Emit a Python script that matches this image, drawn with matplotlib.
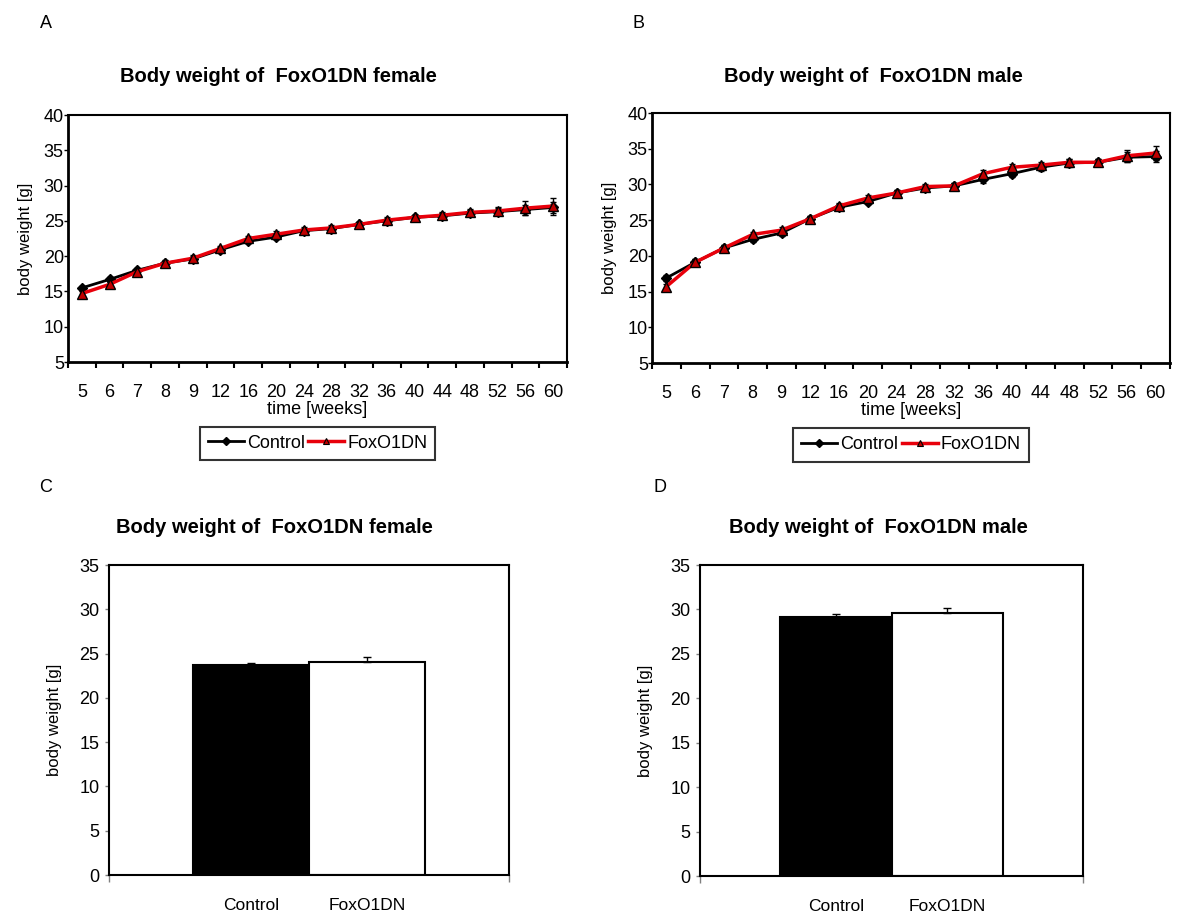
import matplotlib
matplotlib.use("Agg")
import matplotlib.pyplot as plt
from matplotlib.lines import Line2D
import numpy as np

plt.rcParams['font.family'] = ['Liberation Sans', 'DejaVu Sans']

# data
weeks = ['5', '6', '7', '8', '9', '12', '16', '20', '24', '28', '32', '36',
         '40', '44', '48', '52', '56', '60']

female_ctrl = [15.5, 16.7, 18.0, 19.0, 19.6, 20.9, 22.1, 22.7, 23.6, 23.9,
               24.5, 25.0, 25.5, 25.7, 26.1, 26.3, 26.6, 26.9]
female_ctrl_err = [0.3, 0.3, 0.3, 0.3, 0.3, 0.3, 0.3, 0.3, 0.3, 0.3,
                   0.3, 0.3, 0.3, 0.4, 0.4, 0.5, 0.7, 0.8]
female_foxo = [14.7, 16.0, 17.8, 19.0, 19.7, 21.1, 22.5, 23.1, 23.7, 24.0,
               24.5, 25.1, 25.5, 25.8, 26.2, 26.4, 26.8, 27.1]
female_foxo_err = [0.4, 0.4, 0.4, 0.4, 0.4, 0.4, 0.4, 0.4, 0.4, 0.4,
                   0.4, 0.4, 0.4, 0.5, 0.5, 0.6, 1.0, 1.2]

male_ctrl = [16.9, 19.1, 21.1, 22.3, 23.2, 25.2, 26.8, 27.6, 28.8, 29.5,
             29.8, 30.7, 31.5, 32.4, 33.0, 33.1, 33.8, 33.9]
male_ctrl_err = [0.4, 0.4, 0.4, 0.4, 0.4, 0.4, 0.4, 0.4, 0.4, 0.4,
                 0.4, 0.5, 0.5, 0.5, 0.5, 0.5, 0.7, 0.8]
male_foxo = [15.7, 19.1, 21.1, 23.0, 23.6, 25.2, 27.0, 28.1, 28.8, 29.7,
             29.8, 31.5, 32.4, 32.7, 33.1, 33.1, 34.0, 34.4]
male_foxo_err = [0.4, 0.4, 0.4, 0.4, 0.4, 0.4, 0.4, 0.4, 0.4, 0.4,
                 0.4, 0.5, 0.5, 0.5, 0.5, 0.5, 0.8, 1.0]

groups = ['Control', 'FoxO1DN']
female_mean = [23.7, 24.1]
female_mean_err = [0.2, 0.5]
male_mean = [29.2, 29.6]
male_mean_err = [0.3, 0.6]

W, H = 1178, 913
fig = plt.figure(figsize=(W / 100, H / 100), dpi=100)


def px_axes(x0, y0, x1, y1):
    return fig.add_axes([x0 / W, (H - y1) / H, (x1 - x0) / W, (y1 - y0) / H])


def line_panel(ax, ctrl, ctrl_err, foxo, foxo_err):
    x = np.arange(len(weeks))
    ax.errorbar(x, ctrl, yerr=ctrl_err, color='black', lw=2, marker='D',
                ms=5.5, mfc='black', mec='black', ecolor='black', elinewidth=1,
                capsize=2.5, zorder=3)
    ax.errorbar(x, foxo, yerr=foxo_err, color='#e8000b', lw=2.5, marker='^',
                ms=6.5, mfc='#c00000', mec='black', mew=1, ecolor='black',
                elinewidth=1, capsize=2.5, zorder=4)
    ax.set_xlim(-0.5, len(weeks) - 0.5)
    ax.set_ylim(5, 40)
    ax.set_yticks(range(5, 41, 5))
    ax.set_xticks(x)
    ax.set_xticklabels(weeks)
    ax.set_xticks(np.arange(-0.5, len(weeks), 1), minor=True)
    ax.tick_params(axis='x', which='major', length=0, pad=16, labelsize=13)
    ax.tick_params(axis='x', which='minor', length=4, width=1.5)
    ax.tick_params(axis='y', length=3, width=1, pad=0, labelsize=13)
    for s in ax.spines.values():
        s.set_linewidth(1.5)
    ax.spines['left'].set_linewidth(2)
    ax.spines['bottom'].set_linewidth(2)
    ax.set_ylabel('body weight [g]', fontsize=12, labelpad=8)
    ax.set_xlabel('time [weeks]', fontsize=13, labelpad=0)
    handles = [Line2D([], [], color='black', lw=2, marker='D', ms=4.5),
               Line2D([], [], color='#e8000b', lw=2.5, marker='^', ms=5,
                      mfc='#c00000', mec='black', mew=0.8)]
    leg = ax.legend(handles, groups, loc='upper center',
                    bbox_to_anchor=(0.5, -0.225), ncol=2,
                    frameon=True, fancybox=False, edgecolor='black',
                    fontsize=13, handlelength=2.0, handletextpad=0.15,
                    columnspacing=0.2, borderpad=0.45)
    leg.get_frame().set_linewidth(1.5)


def bar_panel(ax, means, errs):
    pos = [0.5 - 0.145, 0.5 + 0.145]
    ax.bar(pos, means, width=0.29, color=['black', 'white'],
           edgecolor='black', linewidth=1.5, zorder=2)
    ax.errorbar(pos, means, yerr=[[0, 0], errs], fmt='none', ecolor='black',
                elinewidth=1, capsize=3, zorder=3)
    ax.set_xlim(0, 1)
    ax.set_ylim(0, 35)
    ax.set_yticks(range(0, 36, 5))
    ax.set_xticks([0, 1])
    ax.set_xticklabels(['', ''])
    ax.tick_params(axis='x', length=5, width=1, color='gray')
    ax.tick_params(axis='y', length=3, width=1, color='gray', labelsize=13, pad=4)
    for p, g in zip(pos, groups):
        ax.text(p, -3.4, g, ha='center', va='center', fontsize=12.5)
    for s in ax.spines.values():
        s.set_linewidth(1.5)
    ax.set_ylabel('body weight [g]', fontsize=12, labelpad=12)


axA = px_axes(68, 115, 567, 362)
line_panel(axA, female_ctrl, female_ctrl_err, female_foxo, female_foxo_err)
axB = px_axes(652, 113, 1170, 363)
line_panel(axB, male_ctrl, male_ctrl_err, male_foxo, male_foxo_err)
axC = px_axes(109, 565, 509, 875)
bar_panel(axC, female_mean, female_mean_err)
axD = px_axes(700, 565, 1083, 876)
bar_panel(axD, male_mean, male_mean_err)

title_kw = dict(ha='center', va='center', fontsize=14.5, fontweight='bold')
fig.text(278 / W, 1 - 77 / H, 'Body weight of  FoxO1DN female', **title_kw)
fig.text(873 / W, 1 - 77 / H, 'Body weight of  FoxO1DN male', **title_kw)
fig.text(274 / W, 1 - 527 / H, 'Body weight of  FoxO1DN female', **title_kw)
fig.text(878 / W, 1 - 527 / H, 'Body weight of  FoxO1DN male', **title_kw)

for lab, x, y in [('A', 46, 24), ('B', 639, 24), ('C', 46, 488), ('D', 660, 488)]:
    fig.text(x / W, 1 - y / H, lab, ha='center', va='center', fontsize=13)

fig.savefig('out.png', dpi=100, facecolor='white')
